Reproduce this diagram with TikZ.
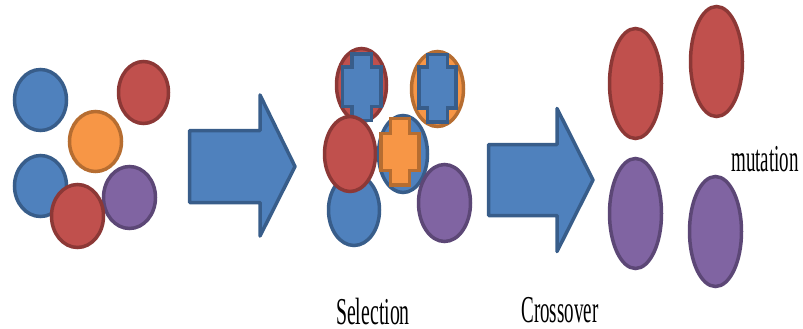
\documentclass[tikz,border=0pt]{standalone}
\usepackage{fontspec}
\setmainfont{Liberation Serif}
\usetikzlibrary{shapes.geometric}
\definecolor{bluef}{HTML}{4F81BD}\definecolor{bluel}{HTML}{385D8A}
\definecolor{redf}{HTML}{C0504D}\definecolor{redl}{HTML}{8C3836}
\definecolor{orf}{HTML}{F79646}\definecolor{orl}{HTML}{B66D31}
\definecolor{puf}{HTML}{8064A2}\definecolor{pul}{HTML}{5C4776}
\tikzset{
  blob/.style={ellipse, inner sep=0pt, line width=3.5pt},
  bblob/.style={blob, fill=bluef, draw=bluel},
  rblob/.style={blob, fill=redf, draw=redl},
  oblob/.style={blob, fill=orf, draw=orl},
  pblob/.style={blob, fill=puf, draw=pul},
  bigarrow/.style={fill=bluef, draw=bluel, line width=3.5pt, line join=round},
  bcross/.style={fill=bluef, draw=bluel, line width=3.5pt},
  ocross/.style={fill=orf, draw=orl, line width=3.5pt},
  lbl/.style={anchor=base, inner sep=0pt, font=\fontsize{38}{40}\selectfont}
}
\begin{document}
\begin{tikzpicture}[x=1pt, y=-1pt]
\useasboundingbox (0,0) rectangle (803,329);
% left group
\node[bblob, minimum width=52pt, minimum height=61pt] (l1) at (40.5,100) {};
\node[rblob, minimum width=50pt, minimum height=62pt] (l2) at (143.5,92.5) {};
\node[oblob, minimum width=52pt, minimum height=60pt] (l3) at (95.5,141.5) {};
\node[bblob, minimum width=52pt, minimum height=61pt] (l4) at (40.5,186) {};
\node[pblob, minimum width=52pt, minimum height=62pt] (l5) at (129.5,197.5) {};
\node[rblob, minimum width=52pt, minimum height=63pt] (l6) at (77.5,216) {};
% arrow 1
\draw[bigarrow] (189.5,130.5) -- (260,130.5) -- (260,95) -- (295,166.5) -- (260,236) -- (260,202.5) -- (189.5,202.5) -- cycle;
% middle group
\node[rblob, minimum width=50pt, minimum height=73pt] (m1) at (361.5,85) {};
\draw[bcross] (352,54) -- (371.5,54) -- (371.5,67) -- (381,67) -- (381,106.5) -- (371.5,106.5) -- (371.5,120.5) -- (352,120.5) -- (352,106.5) -- (342.5,106.5) -- (342.5,67) -- (352,67) -- cycle;
\node[oblob, minimum width=52pt, minimum height=75pt] (m2) at (437.5,89) {};
\draw[bcross] (427.5,54.5) -- (447.5,54.5) -- (447.5,67) -- (456,67) -- (456,108) -- (447.5,108) -- (447.5,122) -- (427.5,122) -- (427.5,108) -- (419,108) -- (419,67) -- (427.5,67) -- cycle;
\node[bblob, minimum width=51pt, minimum height=71pt] (m3) at (354,210) {};
\node[rblob, minimum width=51pt, minimum height=75pt] (m4) at (350,154) {};
\node[bblob, minimum width=49pt, minimum height=77pt] (m5) at (403,154) {};
\draw[ocross] (390.5,118.5) -- (409.5,118.5) -- (409.5,133.5) -- (419,133.5) -- (419,170.5) -- (409.5,170.5) -- (409.5,185) -- (390.5,185) -- (390.5,170.5) -- (381,170.5) -- (381,133.5) -- (390.5,133.5) -- cycle;
\node[pblob, minimum width=52pt, minimum height=77pt] (m6) at (444.5,203) {};
% arrow 2
\draw[bigarrow] (488.5,144.5) -- (557,144.5) -- (557,108.5) -- (593,180) -- (557,251.5) -- (557,215.5) -- (488.5,215.5) -- cycle;
% right group
\node[rblob, minimum width=52pt, minimum height=110pt] (r1) at (635.5,83.5) {};
\node[rblob, minimum width=52pt, minimum height=110pt] (r2) at (716.5,61.5) {};
\node[pblob, minimum width=52pt, minimum height=110pt] (r3) at (635.5,213.5) {};
\node[pblob, minimum width=52pt, minimum height=110pt] (r4) at (715.5,231.5) {};
% labels
\node[lbl] (t1) at (373,324) {\scalebox{0.52}[1]{Selection}};
\node[lbl] (t2) at (560,322.5) {\scalebox{0.5}[1]{Crossover}};
\node[lbl] (t3) at (765,171) {\scalebox{0.5}[1]{mutation}};
\end{tikzpicture}
\end{document}
